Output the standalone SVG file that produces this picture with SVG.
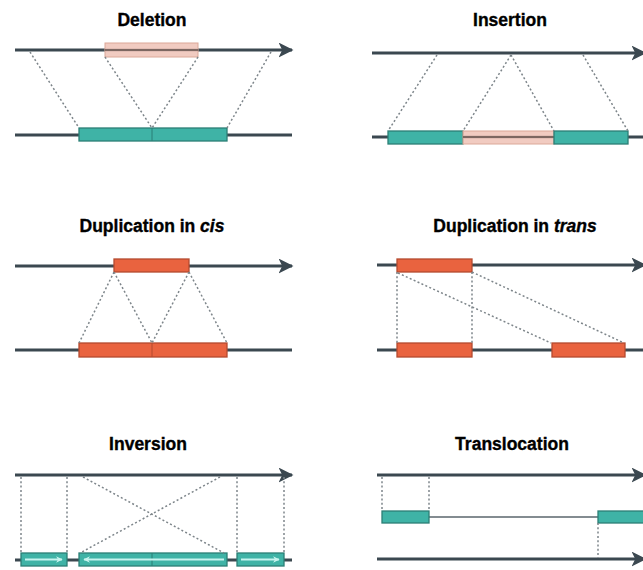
<svg xmlns="http://www.w3.org/2000/svg" width="643" height="570" viewBox="0 0 643 570">
<defs>
<marker id="ah" viewBox="0 0 10 10" refX="9" refY="5" markerWidth="5" markerHeight="5" orient="auto" markerUnits="strokeWidth">
<path d="M0,0 L10,5 L0,10 L2.5,5 Z" fill="#3b4850"/>
</marker>
<marker id="wh" viewBox="0 0 10 10" refX="9" refY="5" markerWidth="3" markerHeight="3" orient="auto" markerUnits="strokeWidth">
<path d="M0,0 L10,5 L0,10 L3,5 Z" fill="#c8f4ef"/>
</marker>
<style>
.t{font-family:"Liberation Sans",Arial,sans-serif;font-weight:bold;font-size:17.5px;fill:#000;text-anchor:middle;stroke:#000;stroke-width:0.35}
.i{font-style:italic}
.dna{stroke:#3b4850;stroke-width:3;fill:none}
.dnaA{stroke:#3b4850;stroke-width:3;fill:none;marker-end:url(#ah)}
.thin{stroke:#5a666c;stroke-width:1.3;fill:none}
.dot{stroke:#7d858a;stroke-width:1.5;stroke-dasharray:2 2.3;fill:none}
.teal{fill:#3fb3a6;stroke:#2b7f76;stroke-width:1.3}
.red{fill:#e9633f;stroke:#b44a2e;stroke-width:1.3}
.pink{fill:#efc2b6;fill-opacity:0.85;stroke:#dba898;stroke-width:1}
.div{stroke:#2b7f76;stroke-width:1}
.divr{stroke:#b44a2e;stroke-width:1}
.wa{stroke:#c8f4ef;stroke-width:2.2;fill:none;marker-end:url(#wh)}
</style>
</defs>

<g id="deletion">
<text class="t" x="152" y="26">Deletion</text>
<line class="dnaA" x1="15" y1="50" x2="292" y2="50"/>
<rect class="pink" x="105" y="43" width="93" height="14"/>
<line x1="105" y1="50" x2="198" y2="50" stroke="#5a4a44" stroke-width="2" opacity="0.7"/>
<line class="dna" x1="15" y1="135" x2="292" y2="135"/>
<rect class="teal" x="79" y="128" width="148" height="13"/>
<line class="div" x1="152" y1="128" x2="152" y2="141"/>
</g>

<g id="insertion">
<text class="t" x="510" y="26">Insertion</text>
<line class="dnaA" x1="372" y1="53" x2="645" y2="53"/>
<line class="dna" x1="372" y1="137" x2="645" y2="137"/>
<rect class="teal" x="388" y="131" width="75" height="13"/>
<rect class="pink" x="463" y="131" width="91" height="13"/>
<line x1="463" y1="137" x2="554" y2="137" stroke="#5a4a44" stroke-width="2" opacity="0.7"/>
<rect class="teal" x="554" y="131" width="74" height="13"/>
</g>

<g id="dup-cis">
<text class="t" x="152" y="232">Duplication in <tspan class="i">cis</tspan></text>
<line class="dnaA" x1="15" y1="266" x2="292" y2="266"/>
<rect class="red" x="114" y="259" width="75" height="13"/>
<line class="dna" x1="15" y1="350" x2="292" y2="350"/>
<rect class="red" x="79" y="343" width="148" height="14"/>
<line class="divr" x1="152" y1="343" x2="152" y2="357"/>
</g>

<g id="dup-trans">
<text class="t" x="515" y="232">Duplication in <tspan class="i">trans</tspan></text>
<line class="dnaA" x1="377" y1="265" x2="645" y2="265"/>
<rect class="red" x="397" y="259" width="75" height="13"/>
<line class="dna" x1="377" y1="350" x2="643" y2="350"/>
<rect class="red" x="397" y="343" width="75" height="14"/>
<rect class="red" x="552" y="343" width="73" height="14"/>
</g>

<g id="inversion">
<text class="t" x="148" y="450">Inversion</text>
<line class="dnaA" x1="15" y1="475" x2="292" y2="475"/>
<line class="dna" x1="15" y1="560" x2="292" y2="560"/>
<rect class="teal" x="21" y="553" width="46" height="13"/>
<rect class="teal" x="79" y="553" width="148" height="13"/>
<rect class="teal" x="237" y="553" width="47" height="13"/>
<line class="div" x1="152" y1="553" x2="152" y2="566"/>
<line class="wa" x1="25" y1="559.5" x2="62" y2="559.5"/>
<line class="wa" x1="224" y1="559.5" x2="84" y2="559.5"/>
<line class="wa" x1="241" y1="559.5" x2="279" y2="559.5"/>
</g>

<g id="translocation">
<text class="t" x="512" y="450">Translocation</text>
<line class="dnaA" x1="377" y1="475" x2="645" y2="475"/>
<line class="thin" x1="429" y1="517" x2="598" y2="517"/>
<rect class="teal" x="382" y="511" width="47" height="12"/>
<rect class="teal" x="598" y="511" width="50" height="12"/>
<line class="dnaA" x1="377" y1="559" x2="645" y2="559"/>
</g>

<g id="connectors">
<line class="dot" x1="30" y1="52" x2="79" y2="128"/>
<line class="dot" x1="105" y1="57" x2="152" y2="128"/>
<line class="dot" x1="198" y1="57" x2="152" y2="128"/>
<line class="dot" x1="271" y1="52" x2="227" y2="128"/>

<line class="dot" x1="437" y1="55" x2="388" y2="131"/>
<line class="dot" x1="511" y1="55" x2="463" y2="131"/>
<line class="dot" x1="511" y1="55" x2="554" y2="131"/>
<line class="dot" x1="583" y1="55" x2="628" y2="131"/>

<line class="dot" x1="114" y1="272" x2="79" y2="343"/>
<line class="dot" x1="114" y1="272" x2="152" y2="343"/>
<line class="dot" x1="189" y1="272" x2="152" y2="343"/>
<line class="dot" x1="189" y1="272" x2="227" y2="343"/>

<line class="dot" x1="397" y1="272" x2="397" y2="343"/>
<line class="dot" x1="472" y1="272" x2="472" y2="343"/>
<line class="dot" x1="398" y1="273" x2="551" y2="343"/>
<line class="dot" x1="472" y1="272" x2="624" y2="343"/>

<line class="dot" x1="21" y1="477" x2="21" y2="553"/>
<line class="dot" x1="67" y1="477" x2="67" y2="553"/>
<line class="dot" x1="237" y1="477" x2="237" y2="553"/>
<line class="dot" x1="284" y1="477" x2="284" y2="553"/>
<line class="dot" x1="83" y1="477" x2="224" y2="553"/>
<line class="dot" x1="220" y1="477" x2="80" y2="553"/>

<line class="dot" x1="382" y1="477" x2="382" y2="511"/>
<line class="dot" x1="429" y1="477" x2="429" y2="511"/>
<line class="dot" x1="598" y1="523" x2="598" y2="558"/>
</g>
</svg>
